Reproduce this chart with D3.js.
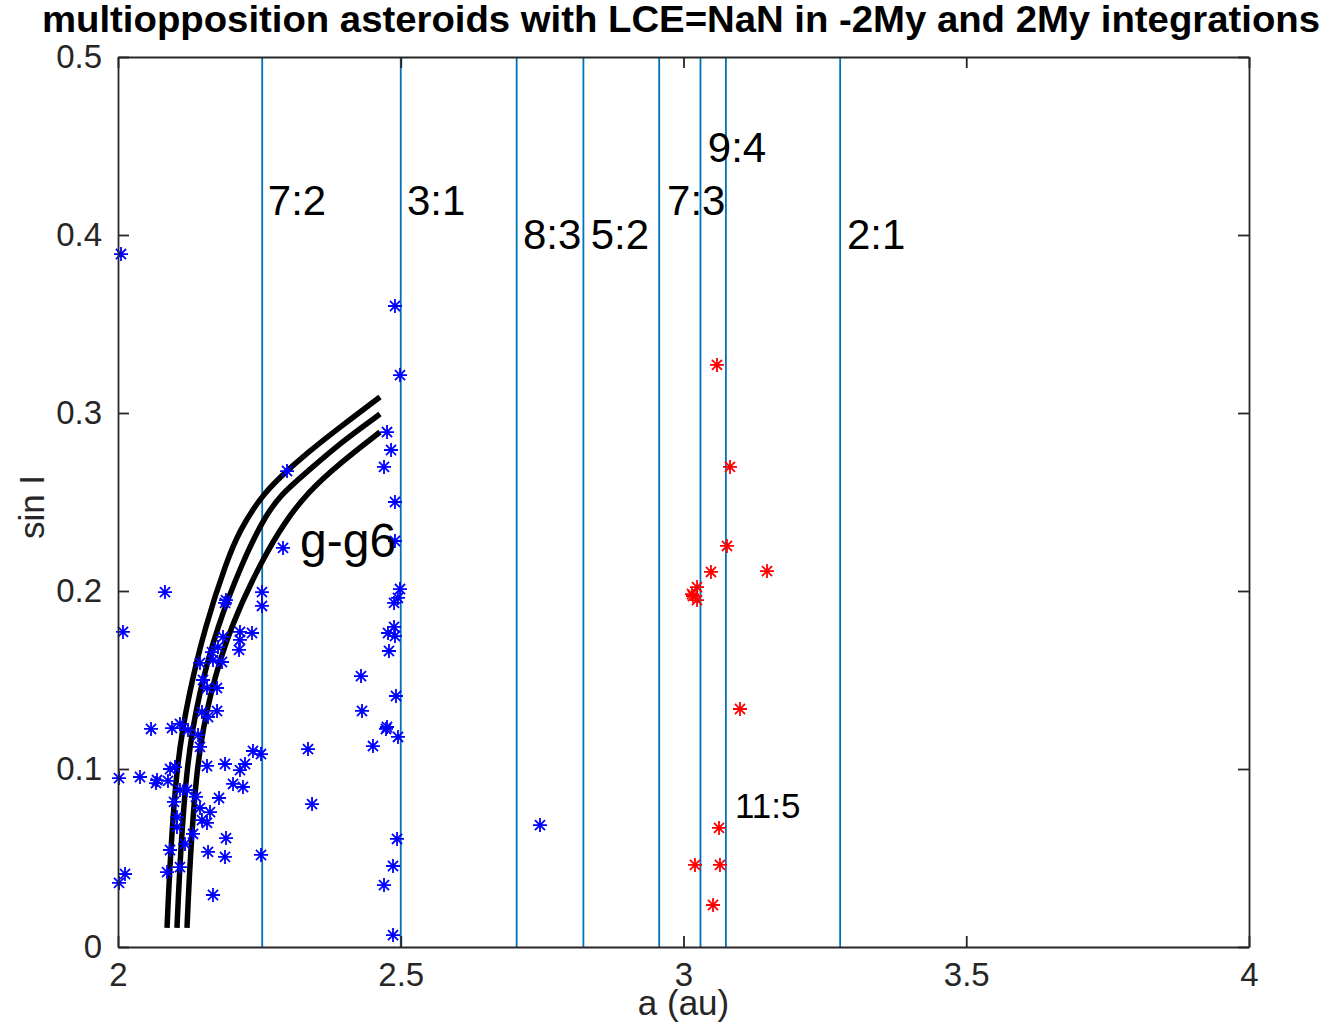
<!DOCTYPE html>
<html>
<head>
<meta charset="utf-8">
<script src="https://cdn.jsdelivr.net/npm/d3@7"></script>
<style>
  body { margin: 0; background: #fff; }
  svg { display: block; font-family: "Liberation Sans", Arial, sans-serif; }
</style>
</head>
<body>
<svg id="svg" width="1330" height="1026"></svg>
<script>
// resonance lines (a in au)
const resonanceA = [2.255, 2.500, 2.705, 2.823, 2.957, 3.030, 3.075, 3.277];

// resonance labels: [text, a, sinI]
const resonanceLabels = [
  ["7:2", 2.265, 0.411],
  ["3:1", 2.511, 0.411],
  ["8:3", 2.716, 0.392],
  ["5:2", 2.836, 0.392],
  ["7:3", 2.971, 0.411],
  ["9:4", 3.043, 0.441],
  ["2:1", 3.289, 0.392]
];
const smallLabels = [["11:5", 3.091, 0.0725]];
const curveLabel = ["g-g6", 2.322, 0.219];

// g-g6 secular resonance curves
const curveLeft = [
  [2.0867, 0.0107], [2.0920, 0.0489], [2.1043, 0.1051], [2.1256, 0.1427],
  [2.1538, 0.1798], [2.1927, 0.2174], [2.2157, 0.2343], [2.2511, 0.2522],
  [2.2865, 0.2640], [2.3342, 0.2775], [2.3926, 0.2921], [2.4633, 0.3090]
];
const curveMid = [
  [2.1043, 0.0107], [2.1096, 0.0489], [2.1220, 0.1051], [2.1432, 0.1427],
  [2.1751, 0.1798], [2.2193, 0.2157], [2.2564, 0.2400], [2.2865, 0.2539],
  [2.3342, 0.2669], [2.3926, 0.2831], [2.4633, 0.2994]
];
const curveRight = [
  [2.1220, 0.0107], [2.1273, 0.0489], [2.1397, 0.1051], [2.1627, 0.1427],
  [2.1981, 0.1798], [2.2564, 0.2185], [2.2953, 0.2388], [2.3342, 0.2551],
  [2.3926, 0.2719], [2.4633, 0.2893]
];

// asteroids, -2My integration (blue) and 2My integration (red)
const blueA = [
  2.0053, 2.4898, 2.4987, 2.2989, 2.4757, 2.4828, 2.4704, 2.4898, 2.2918, 2.4898,
  2.0831, 2.2546, 2.2546, 2.0088, 2.1910, 2.1892, 2.2157, 2.2370, 2.2157, 2.2140,
  2.1857, 2.1768, 2.1662, 2.1450, 2.1680, 2.1839, 2.1503, 2.1574, 2.1751, 2.1485,
  2.1751, 2.1592, 2.0584, 2.0955, 2.1096, 2.1238, 2.1415, 2.1450, 2.2387, 2.2529,
  2.0920, 2.1008, 2.1574, 2.1892, 2.2157, 2.2246, 2.0018, 2.0389, 2.0690, 2.0672,
  2.0884, 2.2034, 2.2210, 2.1096, 2.1220, 2.1379, 2.1786, 2.0990, 2.1450, 2.1627,
  2.1485, 2.1574, 2.1043, 2.1043, 2.1326, 2.1910, 2.0920, 2.1185, 2.1592, 2.1892,
  2.2529, 2.0124, 2.0018, 2.0867, 2.1096, 2.1680, 2.4987, 2.4951, 2.4881, 2.4881,
  2.4775, 2.4898, 2.4792, 2.4297, 2.4916, 2.4315, 2.4757, 2.4739, 2.4951, 2.4509,
  2.3360, 2.3431, 2.4934, 2.4863, 2.4704, 2.4863, 2.7462
];
const blueSinI = [
  0.3893, 0.3601, 0.3213, 0.2674, 0.2893, 0.2792, 0.2697, 0.2500, 0.2242, 0.2281,
  0.1994, 0.1994, 0.1916, 0.1770, 0.1949, 0.1933, 0.1770, 0.1764, 0.1725, 0.1669,
  0.1742, 0.1685, 0.1657, 0.1596, 0.1612, 0.1601, 0.1500, 0.1455, 0.1455, 0.1320,
  0.1326, 0.1292, 0.1225, 0.1230, 0.1253, 0.1219, 0.1191, 0.1124, 0.1101, 0.1084,
  0.1000, 0.1011, 0.1017, 0.1028, 0.0994, 0.1028, 0.0949, 0.0955, 0.0938, 0.0921,
  0.0933, 0.0916, 0.0899, 0.0882, 0.0882, 0.0843, 0.0837, 0.0815, 0.0781, 0.0758,
  0.0713, 0.0697, 0.0730, 0.0674, 0.0635, 0.0612, 0.0545, 0.0579, 0.0534, 0.0506,
  0.0517, 0.0410, 0.0360, 0.0421, 0.0449, 0.0292, 0.2011, 0.1961, 0.1933, 0.1798,
  0.1764, 0.1747, 0.1663, 0.1522, 0.1410, 0.1326, 0.1236, 0.1225, 0.1180, 0.1129,
  0.1112, 0.0803, 0.0607, 0.0455, 0.0348, 0.0067, 0.0685
];
const redA = [
  3.0592, 3.0822, 3.0769, 3.0486, 3.1477, 3.0239, 3.0168, 3.0239, 3.0150,
  3.0999, 3.0628, 3.0203, 3.0645, 3.0522
];
const redSinI = [
  0.3270, 0.2697, 0.2253, 0.2107, 0.2112, 0.2022, 0.1972, 0.1949, 0.1983,
  0.1337, 0.0669, 0.0461, 0.0461, 0.0236
];

const xTicks = [2, 2.5, 3, 3.5, 4];
const yTicks = [0, 0.1, 0.2, 0.3, 0.4, 0.5];

const width = 1330;
const height = 1026;
const margin = {top: 57, left: 118, right: 81, bottom: 79};
const innerWidth = width - margin.left - margin.right;
const innerHeight = height - margin.top - margin.bottom;
const axisColor = "#262626";

const svg = d3.select("#svg");

const xScale = d3.scaleLinear().domain([2, 4]).range([0, innerWidth]);
const yScale = d3.scaleLinear().domain([0, 0.5]).range([innerHeight, 0]);

const g = svg.append("g")
  .attr("transform", `translate(${margin.left},${margin.top})`);

// resonance lines
g.selectAll(".res").data(resonanceA)
  .enter().append("line")
  .attr("class", "res")
  .attr("x1", d => xScale(d)).attr("x2", d => xScale(d))
  .attr("y1", 0).attr("y2", innerHeight)
  .attr("stroke", "#0072BD")
  .attr("stroke-width", 1.8);

// secular resonance curves
const line = d3.line()
  .x(d => xScale(d[0]))
  .y(d => yScale(d[1]))
  .curve(d3.curveBasis);

g.selectAll(".sec").data([curveLeft, curveMid, curveRight])
  .enter().append("path")
  .attr("class", "sec")
  .attr("d", line)
  .attr("fill", "none")
  .attr("stroke", "#000")
  .attr("stroke-width", 5.5);

// asterisk marker, 8 spokes like matlab '*'
const star = r => {
  const q = r * 0.72;
  return `M${-r},0L${r},0M0,${-r}L0,${r}M${-q},${-q}L${q},${q}M${-q},${q}L${q},${-q}`;
};

const drawStars = (aArr, sArr, color) => {
  g.append("g").selectAll("path")
    .data(d3.zip(aArr, sArr))
    .enter().append("path")
    .attr("transform", d => `translate(${xScale(d[0])},${yScale(d[1])})`)
    .attr("d", star(7))
    .attr("fill", "none")
    .attr("stroke", color)
    .attr("stroke-width", 1.8);
};
drawStars(blueA, blueSinI, "#0000ff");
drawStars(redA, redSinI, "#ff0000");

// labels
g.selectAll(".rlab").data(resonanceLabels)
  .enter().append("text")
  .attr("x", d => xScale(d[1]))
  .attr("y", d => yScale(d[2]))
  .attr("font-size", 42)
  .attr("fill", "#000")
  .text(d => d[0]);

g.selectAll(".slab").data(smallLabels)
  .enter().append("text")
  .attr("x", d => xScale(d[1]))
  .attr("y", d => yScale(d[2]))
  .attr("font-size", 35)
  .attr("fill", "#000")
  .text(d => d[0]);

g.append("text")
  .attr("x", xScale(curveLabel[1]))
  .attr("y", yScale(curveLabel[2]))
  .attr("font-size", 48)
  .attr("fill", "#000")
  .text(curveLabel[0]);

// axes, ticks pointing inside
const styleAxis = sel => {
  sel.selectAll(".domain").attr("stroke", axisColor).attr("stroke-width", 1.8);
  sel.selectAll(".tick line").attr("stroke", axisColor).attr("stroke-width", 1.8);
  sel.selectAll(".tick text").attr("fill", axisColor).attr("font-size", 33)
    .attr("font-family", "Liberation Sans, Arial, sans-serif");
};

g.append("g")
  .attr("transform", `translate(0,${innerHeight})`)
  .call(d3.axisBottom(xScale).tickValues(xTicks).tickSize(-11).tickSizeOuter(0)
    .tickPadding(16).tickFormat(d3.format("")))
  .call(styleAxis);

g.append("g")
  .call(d3.axisTop(xScale).tickValues(xTicks).tickSize(-11).tickSizeOuter(0))
  .call(styleAxis)
  .call(a => a.selectAll(".tick text").remove());

g.append("g")
  .call(d3.axisLeft(yScale).tickValues(yTicks).tickSize(-11).tickSizeOuter(0)
    .tickPadding(16).tickFormat(d3.format("")))
  .call(styleAxis);

g.append("g")
  .attr("transform", `translate(${innerWidth},0)`)
  .call(d3.axisRight(yScale).tickValues(yTicks).tickSize(-11).tickSizeOuter(0))
  .call(styleAxis)
  .call(a => a.selectAll(".tick text").remove());

// axis titles
svg.append("text")
  .attr("x", margin.left + innerWidth / 2)
  .attr("y", 1015)
  .attr("text-anchor", "middle")
  .attr("font-size", 35)
  .attr("fill", axisColor)
  .text("a (au)");

svg.append("text")
  .attr("transform", `translate(44,${margin.top + innerHeight / 2 + 5}) rotate(-90)`)
  .attr("text-anchor", "middle")
  .attr("font-size", 35)
  .attr("fill", axisColor)
  .text("sin I");

svg.append("text")
  .attr("x", 42)
  .attr("y", 32)
  .attr("font-size", 36)
  .attr("font-weight", "bold")
  .attr("fill", "#000")
  .attr("textLength", 1278)
  .attr("lengthAdjust", "spacingAndGlyphs")
  .text("multiopposition asteroids with LCE=NaN in -2My and 2My integrations");
</script>
</body>
</html>
